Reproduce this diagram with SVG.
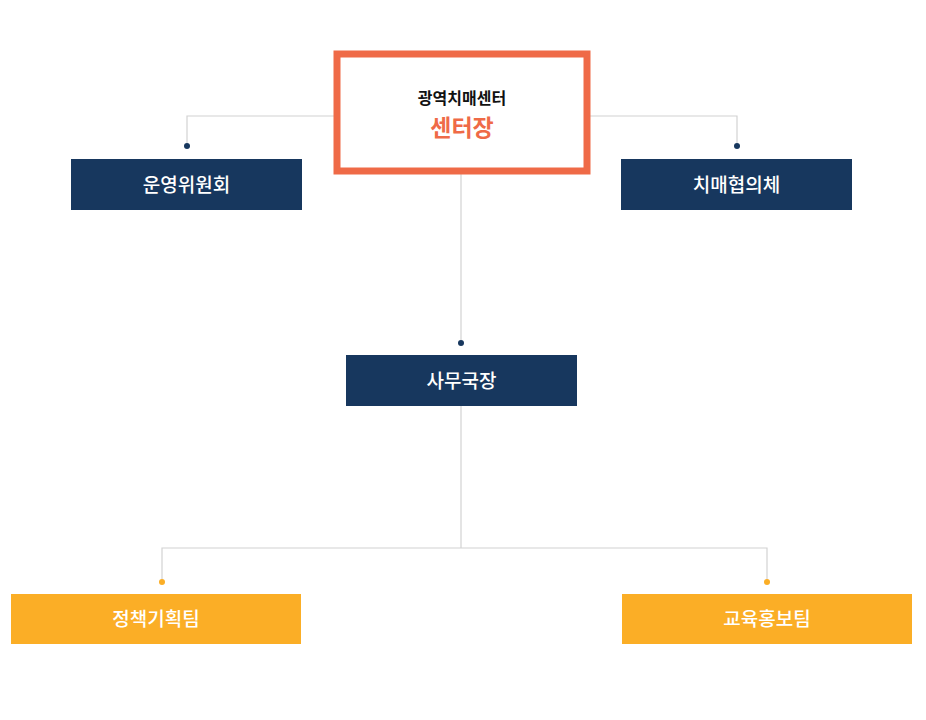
<svg xmlns="http://www.w3.org/2000/svg" width="926" height="720" viewBox="0 0 926 720">
<style>
.ln{fill:none;stroke:#d2d2d2;stroke-width:1.2}
.navy{fill:#17375e}
.gold{fill:#fbae26}
.lbl{font-family:"Noto Sans CJK KR","Noto Sans",sans-serif;font-size:19px;font-weight:500;fill:#ffffff;text-anchor:middle}
</style>
<rect width="926" height="720" fill="#ffffff"/>
<g id="connectors">
<polyline class="ln" points="334,116 187,116 187,146"/>
<polyline class="ln" points="590,116 737,116 737,146"/>
<line class="ln" x1="461" y1="173" x2="461" y2="343"/>
<line class="ln" x1="461" y1="406" x2="461" y2="548"/>
<polyline class="ln" points="162,582 162,548 767,548 767,582"/>
<circle cx="187" cy="146" r="3" class="navy"/>
<circle cx="737" cy="146" r="3" class="navy"/>
<circle cx="461" cy="343" r="3" class="navy"/>
<circle cx="162" cy="582" r="3" class="gold"/>
<circle cx="767" cy="582" r="3" class="gold"/>
</g>
<g id="center-head">
<rect x="337" y="54" width="250" height="117" fill="#ffffff" stroke="#ef6a47" stroke-width="7"/>
<text x="462" y="104" font-family="Noto Sans CJK KR,sans-serif" font-size="16" font-weight="700" fill="#111111" text-anchor="middle">광역치매센터</text>
<text x="462" y="136" font-family="Noto Sans CJK KR,sans-serif" font-size="23" font-weight="700" fill="#ef6a47" text-anchor="middle">센터장</text>
</g>
<g id="committee">
<rect x="71" y="159" width="231" height="51" class="navy"/>
<text x="186.5" y="192" class="lbl">운영위원회</text>
</g>
<g id="council">
<rect x="621" y="159" width="231" height="51" class="navy"/>
<text x="736.5" y="192" class="lbl">치매협의체</text>
</g>
<g id="secretary">
<rect x="346" y="355" width="231" height="51" class="navy"/>
<text x="461.5" y="388" class="lbl">사무국장</text>
</g>
<g id="policy-team">
<rect x="11" y="594" width="290" height="50" class="gold"/>
<text x="156" y="626" class="lbl">정책기획팀</text>
</g>
<g id="edu-team">
<rect x="622" y="594" width="290" height="50" class="gold"/>
<text x="767" y="626" class="lbl">교육홍보팀</text>
</g>
</svg>
